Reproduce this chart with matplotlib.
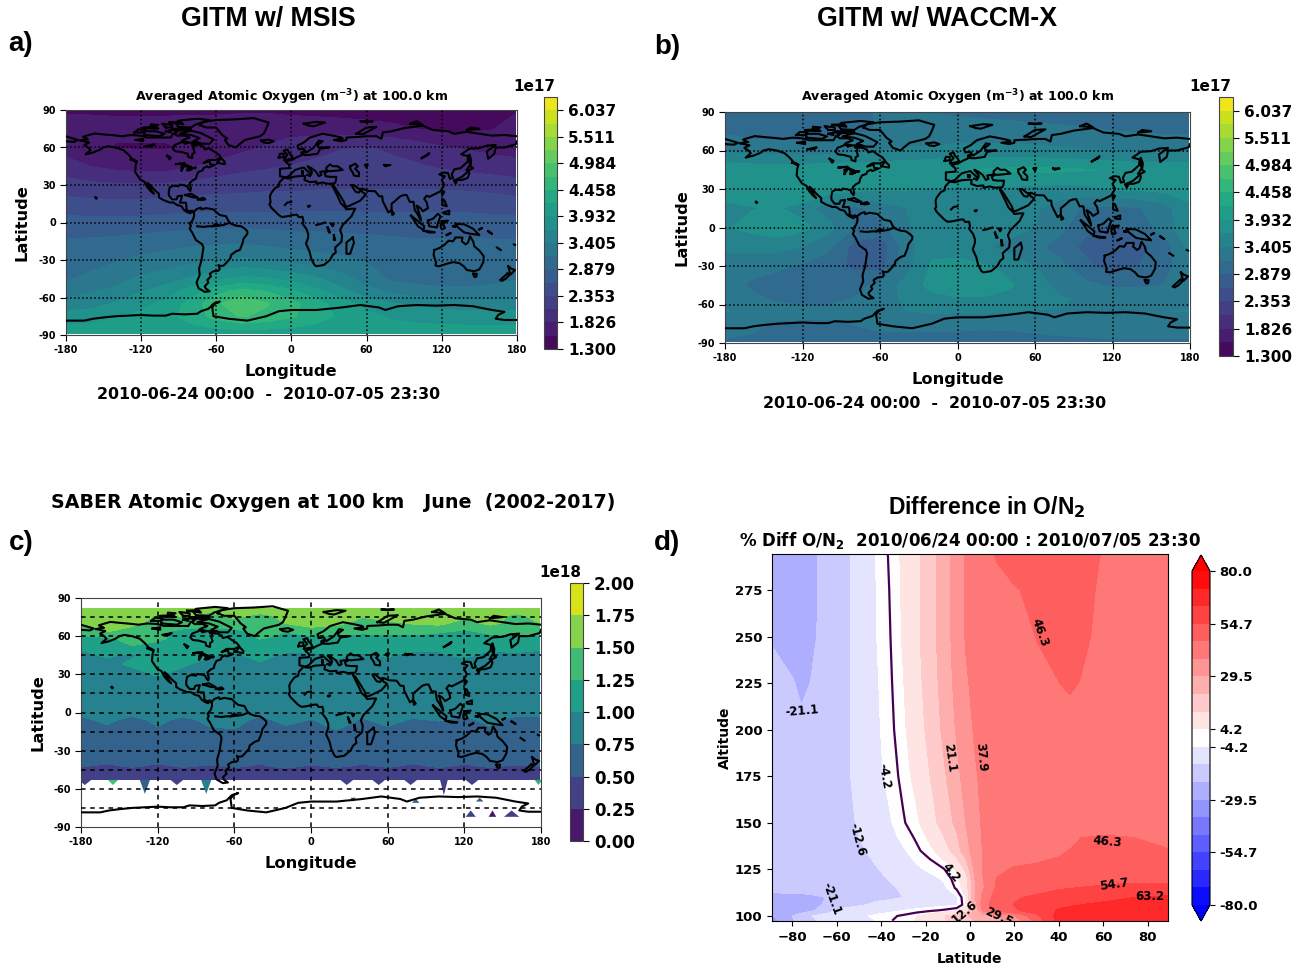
#!/usr/bin/env python3
"""Four panel figure: atomic oxygen at 100 km (GITM, SABER) and O/N2 difference."""
import numpy as np
import matplotlib
matplotlib.use("Agg")
import matplotlib.pyplot as plt

W, H = 1314, 966
plt.rcParams.update({"font.family": "DejaVu Sans", "font.weight": "bold",
                     "axes.labelweight": "bold", "axes.titleweight": "bold"})

LON_AB = [-178.5, -160, -140, -120, -100, -80, -60, -40, -20, 0, 20, 40, 60, 80, 100, 120, 140, 160, 178.5]
LAT_AB = [88.5, 75, 60, 45, 30, 15, 0, -15, -30, -45, -55, -65, -75, -88.5]
MSIS = [
    [1.55, 1.55, 1.55, 1.55, 1.55, 1.55, 1.55, 1.55, 1.55, 1.52, 1.50, 1.48, 1.45, 1.45, 1.45, 1.45, 1.45, 1.50, 1.55],
    [1.65, 1.62, 1.60, 1.60, 1.60, 1.62, 1.62, 1.68, 1.70, 1.72, 1.72, 1.70, 1.68, 1.62, 1.56, 1.50, 1.50, 1.55, 1.65],
    [1.72, 1.62, 1.55, 1.55, 1.55, 1.58, 1.65, 1.75, 1.85, 1.95, 2.00, 2.08, 2.10, 2.05, 1.95, 1.85, 1.80, 1.75, 1.72],
    [1.92, 1.82, 1.75, 1.70, 1.70, 1.80, 1.90, 2.00, 2.05, 2.10, 2.15, 2.15, 2.15, 2.15, 2.12, 2.05, 2.00, 1.95, 1.92],
    [2.20, 2.15, 2.12, 2.12, 2.12, 2.18, 2.22, 2.25, 2.28, 2.28, 2.30, 2.30, 2.30, 2.30, 2.30, 2.30, 2.28, 2.25, 2.20],
    [2.45, 2.43, 2.42, 2.42, 2.45, 2.47, 2.48, 2.48, 2.48, 2.48, 2.50, 2.50, 2.50, 2.50, 2.50, 2.50, 2.50, 2.48, 2.45],
    [2.72, 2.70, 2.70, 2.72, 2.74, 2.76, 2.78, 2.78, 2.78, 2.78, 2.78, 2.78, 2.76, 2.76, 2.74, 2.74, 2.74, 2.72, 2.72],
    [2.90, 2.92, 2.94, 2.98, 3.02, 3.06, 3.08, 3.08, 3.05, 3.00, 2.98, 2.96, 2.94, 2.92, 2.90, 2.90, 2.90, 2.90, 2.90],
    [3.02, 3.05, 3.12, 3.20, 3.26, 3.32, 3.40, 3.46, 3.40, 3.32, 3.26, 3.20, 3.12, 3.05, 3.00, 3.00, 3.00, 3.00, 3.02],
    [3.12, 3.20, 3.30, 3.45, 3.55, 3.70, 3.85, 4.00, 3.95, 3.85, 3.70, 3.50, 3.30, 3.10, 3.05, 3.00, 3.00, 3.05, 3.12],
    [3.30, 3.38, 3.48, 3.65, 3.80, 4.05, 4.35, 4.55, 4.45, 4.25, 4.00, 3.75, 3.50, 3.35, 3.25, 3.22, 3.22, 3.25, 3.30],
    [3.50, 3.55, 3.70, 3.85, 4.00, 4.30, 4.65, 4.95, 4.75, 4.55, 4.30, 4.05, 3.85, 3.70, 3.60, 3.55, 3.50, 3.50, 3.50],
    [3.80, 3.85, 3.92, 4.00, 4.10, 4.30, 4.55, 4.75, 4.65, 4.50, 4.30, 4.15, 4.00, 3.90, 3.85, 3.82, 3.80, 3.80, 3.80],
    [4.05, 4.05, 4.05, 4.05, 4.05, 4.05, 4.05, 4.05, 4.05, 4.05, 4.05, 4.05, 4.05, 4.05, 4.05, 4.05, 4.05, 4.05, 4.05],
]
WACCM = [
    [3.10, 3.05, 3.05, 3.05, 3.10, 3.12, 3.15, 3.15, 3.15, 3.12, 3.10, 3.08, 3.05, 3.05, 3.02, 3.00, 2.95, 2.95, 3.10],
    [3.10, 3.02, 3.00, 3.00, 3.05, 3.12, 3.15, 3.20, 3.22, 3.25, 3.25, 3.25, 3.22, 3.20, 3.18, 3.15, 3.12, 3.10, 3.10],
    [3.35, 3.32, 3.30, 3.28, 3.30, 3.35, 3.40, 3.45, 3.45, 3.50, 3.50, 3.50, 3.48, 3.45, 3.42, 3.40, 3.38, 3.35, 3.35],
    [3.85, 3.82, 3.80, 3.82, 3.85, 3.85, 3.85, 3.88, 3.90, 3.92, 3.95, 3.98, 3.98, 3.98, 3.95, 3.90, 3.85, 3.85, 3.85],
    [3.80, 3.85, 3.90, 3.95, 3.85, 3.75, 3.70, 3.70, 3.65, 3.65, 3.65, 3.62, 3.60, 3.58, 3.60, 3.70, 3.72, 3.75, 3.80],
    [3.60, 3.65, 3.70, 3.55, 3.25, 3.08, 3.25, 3.40, 3.55, 3.62, 3.62, 3.60, 3.45, 3.25, 3.10, 3.08, 3.12, 3.30, 3.60],
    [3.65, 3.75, 3.85, 3.75, 3.50, 3.15, 3.05, 3.35, 3.60, 3.60, 3.58, 3.55, 3.40, 3.20, 2.95, 2.82, 3.00, 3.25, 3.65],
    [3.45, 3.48, 3.50, 3.40, 3.20, 2.78, 2.68, 3.30, 3.60, 3.55, 3.45, 3.30, 3.20, 3.05, 2.78, 2.62, 2.78, 3.00, 3.45],
    [3.30, 3.25, 3.20, 3.10, 3.00, 2.82, 2.78, 3.30, 3.70, 3.75, 3.70, 3.60, 3.40, 3.20, 2.95, 2.72, 2.88, 3.05, 3.30],
    [3.30, 3.10, 3.00, 2.95, 2.98, 3.05, 3.20, 3.50, 3.75, 3.85, 3.85, 3.70, 3.55, 3.30, 3.20, 3.10, 3.10, 3.15, 3.30],
    [3.32, 3.20, 3.10, 3.05, 3.05, 3.15, 3.30, 3.45, 3.60, 3.65, 3.65, 3.60, 3.50, 3.42, 3.38, 3.32, 3.30, 3.30, 3.32],
    [3.42, 3.30, 3.25, 3.22, 3.22, 3.25, 3.35, 3.40, 3.45, 3.45, 3.45, 3.42, 3.40, 3.40, 3.40, 3.38, 3.38, 3.40, 3.42],
    [3.25, 3.20, 3.12, 3.10, 3.10, 3.15, 3.22, 3.25, 3.25, 3.25, 3.22, 3.22, 3.25, 3.28, 3.28, 3.28, 3.28, 3.28, 3.25],
    [3.12, 3.10, 3.08, 3.05, 3.05, 3.05, 3.05, 3.02, 3.00, 3.00, 3.00, 3.02, 3.05, 3.08, 3.10, 3.12, 3.12, 3.12, 3.12],
]
AB_LEVELS = [1.3 + i * 5.0 / 19 for i in range(20)]
AB_TICKS = [1.3, 1.826, 2.353, 2.879, 3.405, 3.932, 4.458, 4.984, 5.511, 6.037]

# --- values (1e18 m-3) ---
LON_C = [-179, -160, -140, -120, -100, -80, -60, -40, -20, 0, 20, 40, 60, 80, 100, 120, 140, 160, 179]
LAT_C = [82, 76, 70, 64, 58, 52, 45, 38, 30, 20, 10, 0, -6, -12, -25, -38, -42, -46, -53]
SABER = [
    [1.60, 1.62, 1.58, 1.60, 1.55, 1.58, 1.60, 1.62, 1.60, 1.62, 1.60, 1.58, 1.60, 1.62, 1.60, 1.58, 1.62, 1.60, 1.60],
    [1.55, 1.60, 1.60, 1.48, 1.52, 1.44, 1.55, 1.45, 1.55, 1.62, 1.58, 1.52, 1.60, 1.48, 1.60, 1.55, 1.60, 1.46, 1.55],
    [1.50, 1.58, 1.55, 1.42, 1.38, 1.32, 1.40, 1.36, 1.50, 1.58, 1.55, 1.42, 1.45, 1.52, 1.56, 1.40, 1.55, 1.42, 1.50],
    [1.35, 1.52, 1.42, 1.30, 1.20, 1.18, 1.20, 1.30, 1.26, 1.42, 1.35, 1.28, 1.32, 1.28, 1.30, 1.22, 1.32, 1.28, 1.35],
    [1.18, 1.20, 1.35, 1.30, 1.15, 1.10, 1.10, 1.26, 1.20, 1.15, 1.15, 1.20, 1.15, 1.22, 1.10, 1.20, 1.15, 1.20, 1.18],
    [1.05, 1.12, 1.24, 1.15, 1.05, 1.12, 1.04, 1.05, 1.12, 1.10, 1.05, 1.12, 1.05, 1.10, 1.05, 1.12, 1.05, 1.05, 1.05],
    [0.94, 1.03, 0.97, 1.10, 1.06, 1.03, 0.96, 1.08, 0.96, 0.94, 1.04, 0.96, 1.03, 0.93, 0.97, 1.04, 0.95, 0.98, 0.94],
    [0.90, 0.92, 1.05, 1.08, 1.03, 0.92, 0.90, 0.97, 0.90, 0.90, 0.93, 0.90, 0.92, 0.90, 0.90, 0.92, 0.90, 0.90, 0.90],
    [0.85, 0.88, 0.90, 1.03, 0.92, 0.88, 0.85, 0.85, 0.85, 0.85, 0.85, 0.85, 0.85, 0.85, 0.85, 0.82, 0.80, 0.85, 0.85],
    [0.85, 0.85, 0.85, 0.85, 0.85, 0.85, 0.85, 0.85, 0.85, 0.88, 0.85, 0.85, 0.85, 0.85, 0.82, 0.80, 0.78, 0.85, 0.85],
    [0.85, 0.85, 0.85, 0.85, 0.85, 0.85, 0.85, 0.85, 0.85, 0.85, 0.85, 0.85, 0.85, 0.85, 0.78, 0.85, 0.85, 0.85, 0.85],
    [0.82, 0.80, 0.82, 0.80, 0.82, 0.82, 0.82, 0.80, 0.82, 0.82, 0.82, 0.80, 0.82, 0.82, 0.82, 0.80, 0.82, 0.80, 0.82],
    [0.70, 0.80, 0.68, 0.80, 0.70, 0.79, 0.82, 0.70, 0.80, 0.74, 0.82, 0.73, 0.80, 0.73, 0.76, 0.70, 0.80, 0.70, 0.70],
    [0.66, 0.72, 0.64, 0.74, 0.66, 0.74, 0.76, 0.66, 0.73, 0.68, 0.77, 0.68, 0.74, 0.66, 0.68, 0.66, 0.74, 0.66, 0.66],
    [0.62, 0.62, 0.62, 0.62, 0.62, 0.62, 0.62, 0.62, 0.62, 0.62, 0.62, 0.62, 0.62, 0.62, 0.62, 0.62, 0.62, 0.62, 0.62],
    [0.58, 0.56, 0.58, 0.56, 0.58, 0.58, 0.58, 0.56, 0.60, 0.58, 0.58, 0.56, 0.58, 0.56, 0.58, 0.56, 0.58, 0.58, 0.58],
    [0.52, 0.46, 0.53, 0.46, 0.53, 0.48, 0.54, 0.47, 0.56, 0.48, 0.54, 0.47, 0.53, 0.46, 0.54, 0.47, 0.53, 0.48, 0.52],
    [0.42, 0.42, 0.42, 0.42, 0.42, 0.42, 0.42, 0.42, 0.42, 0.42, 0.42, 0.42, 0.42, 0.42, 0.42, 0.42, 0.42, 0.42, 0.42],
    [0.38, 0.38, 0.38, 0.38, 0.38, 0.38, 0.38, 0.38, 0.38, 0.38, 0.38, 0.38, 0.38, 0.38, 0.38, 0.38, 0.38, 0.38, 0.38],
]
C_LEVELS = [0.0, 0.25, 0.5, 0.75, 1.0, 1.25, 1.5, 1.75, 2.0]
# isolated SABER cells south of the data edge: centre lon, top lat, tip lat, half width, value
SPOT_LON = [-177, -155, -130, -105, -82, 28, 53, 78, 104, 126, 178, 33, 82, 132, 125, 142, 157]
SPOT_TOP = [-53, -53, -53, -53, -53, -53, -53, -53, -53, -53, -53, -67, -71, -70, -82, -82, -82]
SPOT_TIP = [-57, -57, -64, -57, -64, -57, -57, -57, -65, -57, -57, -70, -68, -67, -77, -77, -77]
SPOT_WID = [5, 4, 4, 5, 4, 5, 5, 5, 3, 5, 3, 2, 3, 3, 4, 3, 6]
SPOT_VAL = [0.38, 1.40, 0.6, 0.38, 0.85, 0.38, 0.38, 0.38, 0.38, 0.38, 1.3, 0.38, 0.6, 0.6, 0.38, 0.12, 0.38]

# --- values (% diff O/N2) ---
LAT_D = [-89, -80, -76, -72, -64, -56, -48, -42, -37, -30, -24, -18, -12, -6, -2, 2, 6, 12, 20, 30, 40, 45, 50, 60, 70, 80, 89]
ALT_D = [97.5, 100, 103, 106, 110, 115, 120, 125, 135, 142, 150, 175, 200, 225, 250, 275, 294]
DIFF = [
    [-32, -22, -18, -14, -10.5, -8, -6, -4, -0.8, 2, 4.8, 8, 12, 15, 18, 21, 23, 26, 33, 50, 66, 68, 69, 70, 70, 70, 70],
    [-30, -21, -17, -13, -10, -7.5, -5, -3, -1.5, 1, 4, 8, 12, 16, 20, 23, 25.5, 29, 37, 53, 66, 67, 68, 69, 69, 69, 69],
    [-29, -26, -25, -23, -15, -10, -8.5, -7, -6, -4.2, -2.5, -1, 0.7, 3.5, 8, 22, 40, 50, 54, 58, 64, 66, 67, 68, 68, 68, 68],
    [-25, -24, -23.5, -23, -20, -15.5, -13, -11, -10, -9, -8, -7, -6, -5, 3, 25, 43, 51, 55, 57.5, 61, 62, 63.2, 64.5, 66, 66, 66],
    [-23, -23, -23, -22.5, -20.8, -17, -15.5, -14.5, -14, -12.6, -10.5, -9, -7.5, -5, 4.2, 28, 41, 50, 54, 56, 58, 59, 60, 61, 62.5, 64, 64.5],
    [-19, -18.5, -18, -18, -17, -16, -15, -14.5, -13.5, -12, -10.5, -8.5, -6, 1, 7, 28, 37, 47.5, 50, 52, 54, 54.6, 55, 55.5, 56, 56, 56],
    [-17, -16.8, -16.6, -16.6, -16, -15.5, -14.8, -14, -12.5, -10.5, -8, -6, -3.5, 2.5, 9, 29, 38, 46.5, 48.5, 49.5, 51, 51.5, 52, 53, 53.5, 53.5, 53.5],
    [-15.5, -15.5, -15.5, -15.5, -15.5, -15, -14.5, -13, -11, -8.5, -5.5, -3, -0.5, 5, 14, 31, 38.5, 45, 47, 47.5, 48, 48.7, 49.5, 50.5, 51, 51, 50.5],
    [-16, -16, -16, -16, -15.5, -14.5, -13, -10.5, -9, -5, -1, 2.5, 8.5, 17, 26, 33, 38.5, 41, 42.5, 44, 45.5, 46.5, 47.5, 48, 47.5, 47, 46.5],
    [-16.2, -16.5, -16.5, -16.5, -16, -14.5, -12, -9.2, -7, -2.7, 0.8, 5.5, 12, 20, 28, 33.5, 39, 41, 42.2, 43.2, 44, 45, 46.3, 46.8, 46.5, 46, 45.5],
    [-16.5, -17, -17, -17, -16.5, -14.5, -11, -8, -5.5, -0.5, 3, 9, 16, 23, 29.5, 34, 39.5, 41, 42, 42.5, 43, 43.5, 44, 44, 44, 44, 44],
    [-17, -18, -18.5, -18, -17, -14, -9, -6, -3, 1.5, 6.5, 12.6, 19.5, 27, 33, 37, 39.5, 41, 42, 43, 43.5, 43.8, 43.8, 43, 42.5, 42, 42],
    [-18, -19.5, -20, -19.5, -17.5, -14, -9, -5.3, -2, 3, 9, 15, 22.5, 30.3, 35, 38.5, 39.8, 41, 42, 43, 44, 44.3, 44, 43, 42.5, 42, 41.5],
    [-19.5, -20.7, -22, -21.05, -18, -14, -9, -4.8, -1.5, 4, 10, 16.5, 24, 32, 37, 39.5, 41.5, 43, 44.3, 45.5, 46.25, 47, 46.1, 44, 43, 42, 41.5],
    [-21.5, -23.5, -24, -22.5, -18.5, -14, -8.5, -4.2, -1, 5, 11, 17.5, 25, 33, 38.3, 40.5, 42, 43.5, 45, 46.4, 48, 48.5, 47.5, 44.8, 43, 42, 41],
    [-24.5, -25.5, -25, -23, -18.5, -14, -8.5, -4, -0.5, 5.2, 11, 17.5, 25, 33, 38.3, 40.8, 43, 44.5, 46, 47.2, 48.2, 48.5, 47.8, 45.5, 43.5, 42.5, 41.5],
    [-26, -26, -25, -23, -18.5, -14, -8.5, -3.8, 0, 5.5, 11, 17.5, 25, 33, 38.3, 41, 44, 46.8, 48.5, 49, 49, 49, 48.5, 46, 44, 43, 42],
]
D_LEVELS = [-80 + i * 160 / 19 for i in range(20)]
D_TICKS = [-80.0, -54.7, -29.5, -4.2, 4.2, 29.5, 54.7, 80.0]
LABEL_TXT = ["46.3", "-21.1", "37.9", "21.1", "-4.2", "-12.6", "46.3", "4.2", "54.7", "63.2", "-21.1", "12.6", "29.5"]
LABEL_LAT = [31.5, -75.5, 5, -9, -38.5, -51, 62, -8.5, 65, 81, -62.5, -2.5, 13]
LABEL_ALT = [252, 210, 185, 185, 175, 141, 140, 123, 117, 110.5, 109, 102, 99.5]
LABEL_ROT = [-70, 5, -85, -82, -80, -75, -5, -50, 8, 0, -70, 40, -25]

# --- coastlines, lon/lat ---
AMERICAS = [(-168, 65.6), (-164, 66.5), (-162, 66.5), (-166, 68.5), (-163, 69.5), (-157, 71.2), (-150, 70.5), (-141, 69.7),
            (-135, 69), (-128, 70), (-120, 69.5), (-115, 68), (-108, 68), (-100, 68), (-96, 68), (-94, 71.5), (-91, 69.5),
            (-85, 69.5), (-81, 68), (-86, 66), (-88, 64), (-93, 62), (-94.5, 59), (-92.5, 57), (-88, 56.5), (-82.5, 55),
            (-82, 52.5), (-79, 51.5), (-79, 54.5), (-77, 56), (-78, 59), (-77.5, 62.3), (-73, 62), (-70, 60.5), (-69, 58.5),
            (-65.5, 59.5), (-62, 57), (-58, 54.5), (-56, 52), (-60, 50), (-66, 50), (-70, 47.5), (-65, 49), (-64.5, 46.5),
            (-61, 46), (-66, 44), (-67, 45), (-70, 43.5), (-70.5, 41.8), (-74, 40.5), (-75.5, 37.5), (-76, 35), (-78.5, 33.8),
            (-81, 31.5), (-80, 27), (-80.5, 25.2), (-82, 27), (-83, 29), (-85, 29.7), (-89, 30.3), (-90, 29), (-94, 29.5),
            (-97, 28), (-97.7, 24), (-97.5, 21.5), (-95, 18.5), (-91.5, 18.5), (-90.5, 21), (-87, 21.5), (-88, 18),
            (-88.8, 15.9), (-84, 15.8), (-83.5, 12), (-83.5, 10), (-81, 8.8), (-79.5, 9.5), (-77.5, 8.7), (-75.5, 10.7),
            (-72, 12), (-71.5, 10.5), (-68, 11.5), (-62, 10.5), (-60, 8.5), (-57, 6), (-52, 5), (-50, 1), (-48, -1),
            (-44, -2.5), (-40, -3), (-37, -5), (-35, -7), (-35, -9), (-38, -13), (-39, -17), (-41, -22), (-44, -23),
            (-48, -26), (-48.5, -28.5), (-52, -32.5), (-54, -34.5), (-57, -34.8), (-58, -34), (-57, -37), (-58, -38.5),
            (-62, -39), (-65, -41), (-64, -43), (-67, -46), (-66, -48), (-69, -51), (-68, -53), (-65, -55), (-69, -55.5),
            (-74, -52.5), (-75.5, -48), (-73, -42), (-73.5, -37), (-71.5, -30), (-70, -20), (-71, -17.5), (-76, -14),
            (-79, -8), (-81, -5), (-80, -2.5), (-81, -1), (-78.5, 2), (-77.5, 5), (-77.5, 7.5), (-79.5, 8.8), (-80.5, 7.3),
            (-83, 8.3), (-85.5, 10), (-87.5, 13), (-91, 14), (-94, 16), (-97, 16), (-102, 18), (-105.5, 20), (-105.5, 23),
            (-109, 26), (-112.5, 30), (-114.7, 31.7), (-113, 28.5), (-111, 25), (-109.5, 23), (-112, 25), (-115, 28.5),
            (-117, 32.5), (-120.5, 34.5), (-122.5, 37.5), (-124.5, 40.5), (-124, 46), (-123, 49), (-127, 51), (-130, 54.5),
            (-134, 58), (-140, 60), (-146, 61), (-150, 60), (-153, 58), (-158, 56), (-164, 54.5), (-160, 58), (-162, 60),
            (-165, 62), (-161, 64), (-168, 65.6)]
EURASIA_AFRICA = [(180, 69), (170, 70), (160, 69.5), (150, 71), (140, 72.5), (130, 71), (125, 73), (113, 74), (105, 77.5),
                  (90, 75.5), (80, 73), (73, 72), (72, 67), (68, 69), (60, 69), (54, 68.5), (44, 68), (44, 66), (40, 65),
                  (34, 66), (41, 67), (40, 68), (33, 69.5), (25, 71), (15, 68), (10, 64), (5, 61.5), (6, 58.5), (10, 59),
                  (12, 56), (18, 60), (22, 65.5), (25, 65), (21, 62), (22, 60), (30, 60), (23, 59), (21, 55), (14, 54),
                  (10, 54), (10, 57), (8, 56), (8.5, 54), (4, 52), (1.5, 50.5), (-1.5, 49.5), (-4.5, 48.5), (-1.5, 46),
                  (-1.5, 43.5), (-9, 43), (-9, 37), (-6, 36.5), (-5, 36), (-2, 37), (0, 39), (3, 42), (6, 43), (10, 44),
                  (12, 42), (16, 38.5), (16.5, 40.5), (13, 45), (16, 43.5), (19.5, 41), (22, 37), (24, 38), (23, 40.5),
                  (26, 41), (29, 41), (26.5, 39.5), (27.5, 37), (31, 36.5), (36, 36.5), (35.5, 33), (34.5, 31.3), (32.5, 31.2),
                  (29, 31), (25, 32), (20, 31), (20, 32.8), (15, 32.3), (10.5, 34), (11, 37), (9.5, 37.3), (3, 36.8),
                  (-2, 35.2), (-6, 35.8), (-9.5, 32), (-10, 29), (-13, 27.5), (-16, 23.5), (-17, 21), (-16.5, 16),
                  (-17.5, 14.7), (-16, 12), (-13, 9), (-10, 6), (-7.5, 4.4), (-3, 5), (1, 6), (4.5, 6.3), (6, 4.3), (9, 4.5),
                  (9.7, 1), (9, -1), (12, -5), (13.5, -9), (13.5, -12), (11.8, -17), (14.5, -23), (16, -29), (18.5, -34),
                  (20, -35), (26, -34), (31, -29.8), (33, -26), (35.5, -24), (35, -20), (40, -15.5), (40.5, -10.5), (39, -6),
                  (41, -2), (44, 1), (48, 5), (51, 11), (48, 11), (44, 10.5), (43, 12), (39.5, 15.5), (37, 21), (35, 25),
                  (32.7, 29.8), (34.8, 28), (38, 23), (42, 16.5), (43.3, 12.8), (45, 12.8), (52, 16), (55, 17.5), (59.5, 22.5),
                  (56.5, 24.5), (56, 26.5), (54, 24), (51.5, 24.5), (50, 26.5), (48, 30), (50, 30), (54, 26.7), (57, 27),
                  (61, 25.3), (67, 25), (70, 21), (72.5, 21), (73, 17), (74.5, 14), (77.5, 8), (80, 10), (80, 15), (82.5, 17),
                  (87, 21), (90, 22), (92, 22), (94.5, 16.5), (97.5, 16.5), (98.5, 10), (100.5, 7), (103.5, 1.5), (103, 4),
                  (100, 13.5), (103, 11.5), (105, 9), (109, 11.5), (108, 16), (106, 19), (108, 21.5), (110, 20.5), (114, 22.5),
                  (119, 25), (122, 30), (120, 34), (122.5, 37), (118, 38.5), (121.5, 40), (125, 39.5), (126.5, 35), (129, 35.5),
                  (128, 38.5), (130, 42.5), (135, 43.5), (140.5, 48.5), (141, 53), (135.5, 54.5), (142, 59), (150, 59.5),
                  (156, 61.5), (163, 62), (156, 57), (157, 51), (162, 55), (163, 60), (170, 60), (179, 62.5), (180, 65)]
CHUKOTKA = [(-180, 65), (-173, 64.5), (-170, 66), (-175, 67.5), (-180, 69)]
ANTARCTICA = [(-180, -78.5), (-165, -78.5), (-158, -77), (-150, -76), (-140, -75), (-130, -74.5), (-120, -74), (-110, -74.5),
              (-100, -74.5), (-95, -73), (-85, -73.5), (-75, -73), (-72, -71), (-66, -69), (-62, -65), (-57, -63.3), (-61, -65),
              (-63, -68), (-62, -75), (-50, -77), (-35, -78.5), (-20, -75), (-10, -71), (0, -70), (20, -70), (30, -69), (40, -68),
              (55, -66), (70, -68), (75, -70), (85, -67), (100, -66), (115, -66.5), (130, -66), (145, -67), (160, -70),
              (170, -71.5), (165, -74), (163, -77), (170, -78), (180, -78)]
GREENLAND = [(-73, 78), (-68, 76), (-60, 76), (-55, 70), (-51, 67), (-53, 66), (-50, 62), (-44, 60), (-42, 62), (-37, 66), (-25, 69),
             (-22, 71), (-20, 75), (-18, 80), (-30, 83.5), (-45, 82.5), (-60, 82), (-70, 80.5), (-73, 78)]
AUSTRALIA = [(114, -22), (113.5, -26), (115.5, -32), (115, -34.5), (118, -35), (124, -33), (129, -31.7), (134, -32.5), (137.5, -35),
             (140, -38), (146, -39), (150, -37.5), (153, -32), (153.5, -27), (150, -22.5), (146, -19), (145, -15), (142.5, -11),
             (141, -16), (139, -17.5), (136, -15), (136.5, -12), (131, -12), (129, -15), (125.5, -14.5), (122, -18), (118, -20.5), (114, -22)]
ARCTIC_ISLANDS = [
    [(-80, 73.5), (-72, 71.5), (-67, 69), (-62, 66.5), (-65, 63), (-71, 63), (-78, 65), (-73, 67.5), (-80, 70), (-89, 71), (-80, 73.5)],
    [(-90, 76.5), (-80, 76), (-76, 78.5), (-65, 82), (-75, 83), (-90, 81.5), (-92, 79), (-90, 76.5)],
    [(-117, 70), (-105, 69), (-101, 71), (-108, 73), (-117, 73), (-117, 70)],
    [(-125, 72), (-118, 72), (-116, 74), (-122, 74.5), (-125, 72)],
    [(-95, 75), (-80, 75), (-85, 73.5), (-95, 74), (-95, 75)],
    [(-100, 73), (-96, 72), (-96, 74), (-100, 73)],
    [(-87, 65), (-81, 64), (-85, 63), (-87, 65)],
    [(-118, 75.5), (-106, 75), (-108, 76.5), (-118, 76), (-118, 75.5)],
    [(-100, 76), (-95, 76), (-95, 78), (-103, 79), (-100, 76)],
    [(-112, 76), (-106, 78), (-112, 78.5), (-112, 76)],
    [(-97, 80), (-86, 78.5), (-88, 80.5), (-97, 80)],
    [(-92, 72), (-90, 73.5), (-93, 74), (-92, 72)],
    [(-79, 62.5), (-74, 64), (-80, 64), (-79, 62.5)],
    [(10, 79), (20, 80.5), (27, 80), (18, 77), (14, 77.5), (10, 79)],
    [(52, 71), (57, 70.5), (68, 76.5), (60, 76), (52, 71)],
    [(95, 79), (105, 78), (100, 81), (95, 79)],
    [(140, 74), (150, 75), (143, 76), (140, 74)],
    [(60, 80.5), (65, 81), (55, 81), (60, 80.5)],
]
ISLANDS = [
    [(-59, 47.7), (-53, 46.7), (-53, 48.5), (-56, 51.5), (-59, 47.7)],
    [(-84.5, 22), (-80, 23), (-74.5, 20), (-78, 20), (-84.5, 22)],
    [(-74.5, 18.5), (-70, 19.8), (-68.5, 18.5), (-71.5, 18), (-74.5, 18.5)],
    [(-128, 50.5), (-125, 50), (-123.5, 48.5), (-128, 50.5)],
    [(-24, 65.5), (-18, 66.3), (-14, 65), (-18, 63.5), (-22, 64), (-24, 65.5)],
    [(-5.5, 50), (1.5, 51.3), (0, 54), (-2, 56), (-3, 58.5), (-6, 57.5), (-3, 54), (-5, 52), (-5.5, 50)],
    [(-10, 52), (-6, 52.3), (-6, 55), (-9, 55), (-10, 52)],
    [(49, -12), (50, -16), (47, -25), (44, -25), (44, -20), (44, -16), (49, -12)],
    [(80, 9.5), (82, 7), (80.5, 6), (80, 9.5)],
    [(95.5, 5.5), (100, 2), (106, -3), (105.5, -6), (101, -3), (95.5, 5.5)],
    [(105.5, -6.5), (114.5, -7.8), (110, -8), (105.5, -6.5)],
    [(109, 1.5), (113, 3), (117, 7), (119, 5), (117.5, 1), (116, -4), (110, -3), (109, 1.5)],
    [(120, 1), (125, 1.5), (121, -1), (122.5, -4.5), (120, -5.5), (119, -3), (120, 1)],
    [(131, -1), (138, -1.5), (145, -5), (150, -10), (143, -9), (138, -8), (133, -4), (131, -1)],
    [(120.5, 18.5), (122, 18), (124, 13), (120.5, 14), (120.5, 18.5)],
    [(122, 8), (126, 9.5), (126, 6.5), (122, 7), (122, 8)],
    [(121, 25), (122, 24.5), (120.5, 22), (120, 23.5), (121, 25)],
    [(131, 34), (136, 36.5), (140, 40), (141.5, 41), (142, 39), (140.5, 35.5), (136, 34), (131, 34)],
    [(140, 42), (142, 45.5), (145, 43.5), (142, 42), (140, 42)],
    [(130, 33.5), (132, 33), (131, 31), (130, 33.5)],
    [(142, 54), (143.5, 50), (143, 46), (142, 48), (142, 54)],
    [(145, -41), (148, -41), (147.5, -43.5), (146, -43.5), (145, -41)],
    [(173, -35), (175.5, -37), (178.5, -38), (175, -41.5), (174, -39), (173, -35)],
    [(172.5, -40.7), (174, -42), (171, -45), (168, -46.7), (166.5, -46), (172.5, -40.7)],
    [(164, -20), (167, -22)],
    [(177.5, -17.5), (178.5, -18)],
    [(-156, 20), (-155, 19.5), (-155.5, 19), (-156, 20)],
    [(8.5, 41), (9.5, 41), (9.5, 39), (8.5, 39), (8.5, 41)],
    [(13, 38), (15.5, 38), (15, 37), (13, 38)],
    [(124, -10), (127, -8.5), (124, -10)],
    [(129, -3), (131, -3.3), (129, -3)],
    [(150, -5.5), (152, -4.5), (150, -5.5)],
    [(157, -7), (160, -9), (157, -7)],
]
INLAND = [
    [(28, 41.5), (28, 44), (31, 46.5), (33, 45), (37, 45), (41, 42), (36, 41.5), (31, 41), (28, 41.5)],
    [(47, 45), (51, 47), (53, 45), (51, 43), (54, 40), (54, 37), (50, 37.5), (49, 40), (47, 43), (47, 45)],
    [(59, 46), (61, 46.5), (60, 44), (59, 46)],
    [(74, 46), (79, 46), (75, 45), (74, 46)],
    [(104, 51.5), (110, 55.5), (109, 54), (104, 51.5)],
    [(-92, 46.7), (-85, 47.5), (-85, 46.5), (-89, 47), (-92, 46.7)],
    [(-87.5, 41.7), (-85, 45.5), (-87.5, 45), (-87.5, 41.7)],
    [(-84, 46), (-80, 44.5), (-82, 43), (-84, 46)],
    [(-83, 42), (-79, 42.8), (-82, 41.5), (-83, 42)],
    [(-79.5, 43.5), (-76, 44), (-76.5, 43.3), (-79.5, 43.5)],
    [(-124, 66), (-118, 67), (-118, 65), (-124, 66)],
    [(-116, 61), (-109, 62.5), (-111, 61), (-116, 61)],
    [(-99, 53.5), (-97, 50.5), (-96, 52), (-99, 53.5)],
    [(-75, -3), (-70, -3.5), (-66, -3), (-62, -3), (-58, -2.5), (-54, -2), (-50, -0.5)],
    [(-63, -3), (-60, -1), (-58, -2)],
    [(32, -1), (34, -1), (33, -3), (32, -1)],
    [(29, -4), (31, -8), (30, -8), (29, -4)],
    [(34, -10), (35, -14), (34, -14), (34, -10)],
    [(13.5, 13), (15, 13.5), (14, 12.5), (13.5, 13)],
    [(-5, 14), (-3, 16), (0, 16.5)],
    [(20, -2), (24, -1), (27, 0)],
]
COASTS = [AMERICAS, EURASIA_AFRICA, CHUKOTKA, ANTARCTICA, GREENLAND, AUSTRALIA] + ARCTIC_ISLANDS + ISLANDS + INLAND
LON_TICKS = [-180, -120, -60, 0, 60, 120, 180]
LAT_TICKS = [-90, -60, -30, 0, 30, 60, 90]
SABER_PARALLELS = [-75, -60, -45, -30, -15, 0, 15, 30, 45, 60, 75]


def px_axes(fig, x0, y0, x1, y1):
    return fig.add_axes([x0 / W, 1 - y1 / H, (x1 - x0) / W, (y1 - y0) / H])


def draw_map(ax, parallels, ls, lw):
    for line in COASTS:
        ax.plot([p[0] for p in line], [p[1] for p in line], color="k", lw=1.5, zorder=4)
    for lon in LON_TICKS[1:-1]:
        ax.axvline(lon, color="k", ls=ls, lw=lw, zorder=3)
    for lat in parallels:
        ax.axhline(lat, color="k", ls=ls, lw=lw, zorder=3)
    ax.set_xlim(-180, 180)
    ax.set_ylim(-90, 90)
    ax.set_xticks(LON_TICKS)
    ax.set_xticklabels([str(t) for t in LON_TICKS])
    ax.set_yticks(LAT_TICKS)
    ax.set_yticklabels([str(t) for t in LAT_TICKS])
    ax.tick_params(labelsize=7, length=4, pad=3)
    for s in ax.spines.values():
        s.set_color("#444444")
    ax.set_xlabel("Longitude", fontsize=11.7, labelpad=7)
    ax.set_ylabel("Latitude", fontsize=11.7, labelpad=6)


def map_colorbar(fig, cs, box, ticks, fmt, exp, fs=11):
    cax = px_axes(fig, *box)
    cb = fig.colorbar(cs, cax=cax, ticks=ticks)
    cb.ax.set_yticklabels([fmt % t for t in ticks], fontsize=fs)
    cb.ax.tick_params(length=4, pad=4)
    cb.outline.set_edgecolor("#444444")
    fig.text(((box[0] + box[2]) / 2 - 16) / W, 1 - (box[1] - 3) / H, exp, ha="center", va="bottom", fontsize=11)
    return cb


fig = plt.figure(figsize=(W / 100, H / 100), dpi=100)
sans = ["Liberation Sans", "DejaVu Sans"]
map_title = "Averaged Atomic Oxygen (m$^{\\mathbf{-3}}$) at 100.0 km"
dates = "2010-06-24 00:00  -  2010-07-05 23:30"

# --- a ---
ax = px_axes(fig, 65.5, 110, 517, 335)
cs = ax.contourf(LON_AB, LAT_AB, np.array(MSIS), levels=AB_LEVELS, cmap="viridis", zorder=1)
draw_map(ax, [-60, -30, 0, 30, 60], ":", 1.1)
ax.set_title(map_title, fontsize=9.1, pad=6)
map_colorbar(fig, cs, (544, 97, 557, 349), AB_TICKS, "%.3f", "1e17")
fig.text(269 / W, 1 - 394 / H, dates, ha="center", va="center", fontsize=11.4)

# --- b ---
ax = px_axes(fig, 725, 112, 1190, 343)
cs = ax.contourf(LON_AB, LAT_AB, np.array(WACCM), levels=AB_LEVELS, cmap="viridis", zorder=1)
draw_map(ax, [-60, -30, 0, 30, 60], ":", 1.1)
ax.set_title(map_title, fontsize=9.1, pad=8)
map_colorbar(fig, cs, (1219, 97, 1233, 356), AB_TICKS, "%.3f", "1e17")
fig.text(935 / W, 1 - 404 / H, dates, ha="center", va="center", fontsize=11.4)

# --- c ---
ax = px_axes(fig, 81, 598, 541, 827)
cs = ax.contourf(LON_C, LAT_C, np.array(SABER), levels=C_LEVELS, cmap="viridis", zorder=1)
for lon, top, tip, wid, val in zip(SPOT_LON, SPOT_TOP, SPOT_TIP, SPOT_WID, SPOT_VAL):
    ax.fill([lon - wid, lon + wid, lon], [top, top, tip], color=cs.cmap(cs.norm(val)), lw=0, zorder=1)
draw_map(ax, SABER_PARALLELS, (0, (3, 3)), 1.1)
map_colorbar(fig, cs, (570, 583, 583, 841), C_LEVELS, "%.2f", "1e18", fs=12)
fig.text(333 / W, 1 - 503 / H, "SABER Atomic Oxygen at 100 km   June  (2002-2017)", ha="center", va="center", fontsize=13.7)

# --- d ---
ax = px_axes(fig, 772, 554, 1168, 921)
cs = ax.contourf(LAT_D, ALT_D, np.array(DIFF), levels=D_LEVELS, cmap="bwr", extend="both")
ax.contour(LAT_D, ALT_D, np.array(DIFF), levels=[0], colors="#440154", linewidths=1.6)
for txt, la, al, rot in zip(LABEL_TXT, LABEL_LAT, LABEL_ALT, LABEL_ROT):
    ax.text(la, al, txt, rotation=rot, ha="center", va="center", fontsize=8.5, clip_on=True, rotation_mode="anchor")
ax.set_xlim(-89.2, 89.2)
ax.set_ylim(97.3, 294.3)
ax.set_xticks(range(-80, 81, 20))
ax.set_yticks(range(100, 276, 25))
ax.tick_params(labelsize=9.5)
ax.set_xlabel("Latitude", fontsize=10, labelpad=6)
ax.set_ylabel("Altitude", fontsize=10, labelpad=2)
ax.set_title("% Diff O/N$_{\\mathbf{2}}$  2010/06/24 00:00 : 2010/07/05 23:30", fontsize=12, pad=6)
cax = px_axes(fig, 1192, 555, 1210, 921)
cb = fig.colorbar(cs, cax=cax, ticks=D_TICKS, extendfrac=0.048)
cb.ax.set_yticklabels(["%.1f" % t for t in D_TICKS], fontsize=9.5)

# --- outer headers, added on top of the panels ---
fig.text(268 / W, 1 - 19 / H, "GITM w/ MSIS", family=sans, ha="center", va="center", fontsize=19.3)
fig.text(937 / W, 1 - 19 / H, "GITM w/ WACCM-X", family=sans, ha="center", va="center", fontsize=19.3)
fig.text(987 / W, 1 - 507 / H, "Difference in O/N$_{\\mathbf{2}}$", family=sans, ha="center", va="center", fontsize=16.5,
         math_fontfamily="dejavusans")
for txt, x, y in [("a)", 21, 44), ("b)", 667, 47), ("c)", 21, 543), ("d)", 667, 543)]:
    fig.text(x / W, 1 - y / H, txt, family=sans, ha="center", va="center", fontsize=20)

fig.savefig("out.png", dpi=100)
